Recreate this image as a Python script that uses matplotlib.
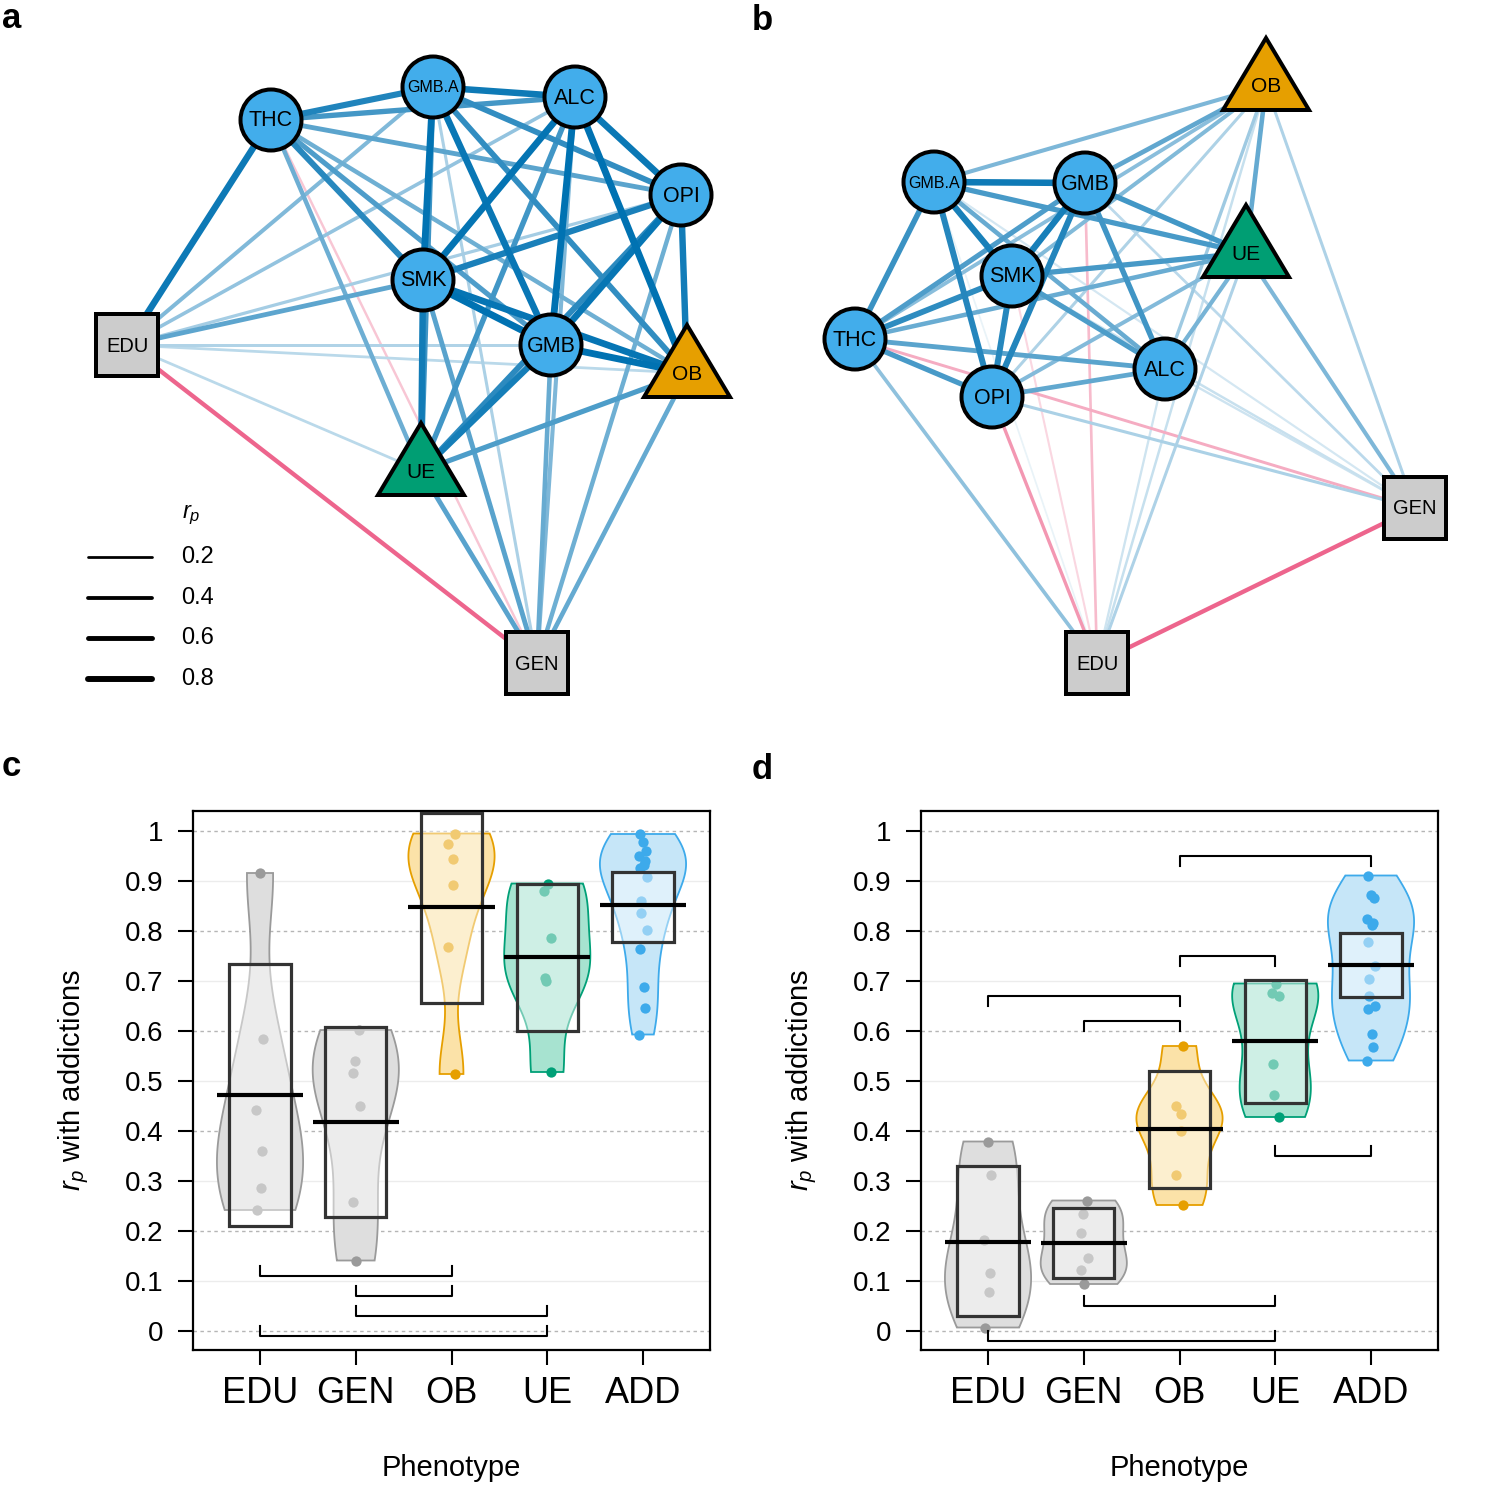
import numpy as np
import matplotlib
matplotlib.use('Agg')
import matplotlib.pyplot as plt
from matplotlib.patches import Circle, Polygon, Rectangle

plt.rcParams['font.family'] = ['Liberation Sans', 'DejaVu Sans']
plt.rcParams['mathtext.fontset'] = 'custom'
plt.rcParams['mathtext.rm'] = 'Liberation Sans'
plt.rcParams['mathtext.it'] = 'Liberation Sans:italic'

# ---------------- data ----------------
addictions = ['THC', 'GMB.A', 'ALC', 'OPI', 'SMK', 'GMB']
groups = ['EDU', 'GEN', 'OB', 'UE', 'ADD']

# network a: layout positions (layout units) and partial correlations
a_nodes = ['THC', 'GMB.A', 'ALC', 'OPI', 'SMK', 'GMB', 'OB', 'UE', 'EDU', 'GEN']
a_x = [271, 433, 575, 681, 423, 551, 687, 421, 127, 537]
a_y = [120, 87, 97, 195, 280, 345, 373, 471, 345, 663]
a_from = ['SMK', 'ALC', 'GMB.A', 'ALC', 'OPI', 'GMB.A', 'ALC', 'GMB.A', 'OPI', 'THC',
          'THC', 'GMB.A', 'THC', 'THC', 'THC',
          'EDU', 'EDU', 'EDU', 'EDU', 'EDU', 'EDU',
          'GEN', 'GEN', 'GEN', 'GEN', 'GEN', 'GEN',
          'OB', 'OB', 'OB', 'OB', 'OB', 'OB',
          'UE', 'UE', 'UE', 'UE', 'UE', 'UE',
          'EDU', 'EDU', 'EDU', 'GEN', 'GEN', 'OB']
a_to = ['GMB', 'GMB', 'SMK', 'SMK', 'GMB', 'GMB', 'OPI', 'ALC', 'SMK', 'GMB.A',
        'SMK', 'OPI', 'ALC', 'GMB', 'OPI',
        'THC', 'SMK', 'GMB.A', 'ALC', 'OPI', 'GMB',
        'SMK', 'GMB', 'OPI', 'ALC', 'GMB.A', 'THC',
        'ALC', 'GMB', 'SMK', 'OPI', 'GMB.A', 'THC',
        'SMK', 'GMB', 'OPI', 'GMB.A', 'ALC', 'THC',
        'GEN', 'OB', 'UE', 'OB', 'UE', 'UE']
a_rp = [0.994, 0.979, 0.960, 0.951, 0.940, 0.932, 0.927, 0.909, 0.861, 0.837,
        0.803, 0.764, 0.689, 0.646, 0.593,
        0.916, 0.584, 0.442, 0.360, 0.286, 0.242,
        0.602, 0.541, 0.516, 0.450, 0.258, -0.141,
        0.995, 0.974, 0.944, 0.893, 0.768, 0.514,
        0.895, 0.881, 0.786, 0.707, 0.701, 0.518,
        -0.50, 0.20, 0.20, 0.55, 0.60, 0.65]

# network b
b_nodes = ['THC', 'GMB.A', 'ALC', 'OPI', 'SMK', 'GMB', 'OB', 'UE', 'EDU', 'GEN']
b_x = [105, 184, 415, 242, 262, 335, 516, 496, 347, 665]
b_y = [339, 182, 369, 397, 276, 183, 86, 253, 663, 508]
b_from = ['GMB.A', 'GMB', 'GMB.A', 'GMB', 'GMB.A', 'SMK', 'SMK', 'GMB.A', 'GMB', 'THC',
          'SMK', 'GMB', 'THC', 'OPI', 'GMB.A',
          'EDU', 'EDU', 'EDU', 'EDU', 'EDU', 'EDU',
          'GEN', 'GEN', 'GEN', 'GEN', 'GEN', 'GEN',
          'OB', 'OB', 'OB', 'OB', 'OB', 'OB',
          'UE', 'UE', 'UE', 'UE', 'UE', 'UE',
          'EDU', 'EDU', 'EDU', 'GEN', 'GEN', 'OB']
b_to = ['GMB', 'SMK', 'SMK', 'OPI', 'OPI', 'OPI', 'THC', 'THC', 'ALC', 'OPI',
        'ALC', 'THC', 'ALC', 'ALC', 'ALC',
        'THC', 'OPI', 'GMB', 'ALC', 'SMK', 'GMB.A',
        'OPI', 'THC', 'GMB', 'SMK', 'ALC', 'GMB.A',
        'GMB', 'GMB.A', 'SMK', 'THC', 'ALC', 'OPI',
        'GMB', 'SMK', 'GMB.A', 'THC', 'ALC', 'OPI',
        'GEN', 'OB', 'UE', 'OB', 'UE', 'UE']
b_rp = [0.911, 0.873, 0.866, 0.825, 0.816, 0.813, 0.778, 0.730, 0.704, 0.671,
        0.650, 0.645, 0.595, 0.568, 0.541,
        0.379, -0.312, -0.182, 0.116, -0.078, 0.007,
        0.261, -0.235, 0.196, 0.147, 0.122, 0.094,
        0.570, 0.451, 0.434, 0.400, 0.312, 0.252,
        0.695, 0.677, 0.671, 0.535, 0.473, 0.428,
        -0.50, 0.15, 0.25, 0.25, 0.45, 0.55]

# box limits
c_box_lo = [0.211, 0.229, 0.657, 0.600, 0.779]
c_box_hi = [0.734, 0.608, 1.036, 0.894, 0.918]
d_box_lo = [0.030, 0.107, 0.287, 0.457, 0.668]
d_box_hi = [0.330, 0.246, 0.521, 0.703, 0.797]

# significance brackets: (group i, group j, y level, direction of the ends)
c_brackets = [(1, 3, 0.111, 1), (2, 3, 0.071, 1), (2, 4, 0.031, 1), (1, 4, -0.009, 1)]
d_brackets = [(3, 5, 0.951, -1), (3, 4, 0.751, -1), (1, 3, 0.670, -1), (2, 3, 0.620, -1),
              (4, 5, 0.350, 1), (2, 4, 0.050, 1), (1, 4, -0.019, 1)]

legend_rp = [0.2, 0.4, 0.6, 0.8]

# ---------------- styles ----------------
NODE_BLUE = '#42ADEB'
node_fill = {'OB': '#E69F00', 'UE': '#009E73', 'EDU': '#CCCCCC', 'GEN': '#CCCCCC'}
POS = np.array([0, 114, 178]) / 255
NEG = np.array([232, 62, 112]) / 255
PX = 0.72  # points per pixel at dpi 100

grp_fill = ['#dedede', '#dedede', '#fbe2a8', '#a7e3d0', '#c6e6f8']
grp_edge = ['#9a9a9a', '#9a9a9a', '#E69F00', '#00A077', '#3DAAEB']
grp_pt = ['#9a9a9a', '#9a9a9a', '#E69F00', '#00A077', '#3DAAEB']


def edge_width(r):
    return (1.7 + 5.3 * abs(r)) * PX


def edge_color(r):
    if r > 0:
        a = np.clip(0.08 + 0.95 * r, 0, 1)
        base = POS
    else:
        a = np.clip(0.1 + 1.4 * abs(r), 0, 1)
        base = NEG
    return tuple(a * base + (1 - a) * np.ones(3))


def draw_network(ax, nodes, xs, ys, src, dst, rp):
    pos = {n: (x, y) for n, x, y in zip(nodes, xs, ys)}
    order = np.argsort(np.abs(rp))
    for k in order:
        (x1, y1), (x2, y2) = pos[src[k]], pos[dst[k]]
        ax.plot([x1, x2], [y1, y2], color=edge_color(rp[k]), lw=edge_width(rp[k]),
                solid_capstyle='butt', zorder=1)
    for n in nodes:
        x, y = pos[n]
        if n in ('OB', 'UE'):
            w, h = 86, 72
            p = Polygon([(x, y - 2 * h / 3), (x - w / 2, y + h / 3), (x + w / 2, y + h / 3)],
                        closed=True, facecolor=node_fill[n], edgecolor='black',
                        lw=4 * PX, joinstyle='miter', zorder=3)
            fs = 15
        elif n in ('EDU', 'GEN'):
            p = Rectangle((x - 31, y - 31), 62, 62, facecolor=node_fill[n],
                          edgecolor='black', lw=4 * PX, joinstyle='miter', zorder=3)
            fs = 14.5
        else:
            p = Circle((x, y), 30.5, facecolor=NODE_BLUE, edgecolor='black',
                       lw=4 * PX, zorder=3)
            fs = 11.5 if n == 'GMB.A' else 15.5
        ax.add_patch(p)
        ax.text(x, y + 1, n, ha='center', va='center', fontsize=fs, zorder=4)


def group_values(src, dst, rp):
    out = []
    for g in groups[:4]:
        v = [abs(r) for s, d, r in zip(src, dst, rp)
             if (s == g and d in addictions) or (d == g and s in addictions)]
        out.append(np.array(v))
    v = [abs(r) for s, d, r in zip(src, dst, rp) if s in addictions and d in addictions]
    out.append(np.array(v))
    return out


def kde_nrd0(v, grid):
    n = len(v)
    sd = np.std(v, ddof=1)
    q75, q25 = np.percentile(v, [75, 25])
    lo = min(sd, (q75 - q25) / 1.34)
    if lo <= 0:
        lo = sd
    bw = 0.9 * lo * n ** -0.2
    return np.exp(-0.5 * ((grid[:, None] - v[None, :]) / bw) ** 2).sum(1)


def draw_violins(ax, vals, box_lo, box_hi, brackets):
    for v in np.arange(0, 1.01, 0.2):
        ax.axhline(v, color='#b5b5b5', lw=1, ls=(0, (2.5, 2.5)), zorder=0)
    for v in np.arange(0.1, 1.0, 0.2):
        ax.axhline(v, color='#ececec', lw=1, zorder=0)
    for k, v in enumerate(vals):
        p = k + 1
        grid = np.linspace(v.min(), v.max(), 300)
        dens = kde_nrd0(v, grid)
        hw = 0.45 * dens / dens.max()
        ax.fill(np.concatenate([p - hw, (p + hw)[::-1]]), np.concatenate([grid, grid[::-1]]),
                facecolor=grp_fill[k], edgecolor=grp_edge[k], lw=1.3, zorder=2)
        jit = 0.04 * np.sin(np.arange(len(v)) * 2.3 + k)
        ax.scatter(p + jit, v, s=55, color=grp_pt[k], lw=0, zorder=3)
        ax.add_patch(Rectangle((p - 0.32, box_lo[k]), 0.64, box_hi[k] - box_lo[k],
                               facecolor=(1, 1, 1, 0.45), edgecolor='#333333',
                               lw=2.3, zorder=4))
        m = v.mean()
        ax.plot([p - 0.45, p + 0.45], [m, m], color='black', lw=3,
                solid_capstyle='butt', zorder=5)
    for i, j, y, d in brackets:
        ax.plot([i, i, j, j], [y + d * 0.02, y, y, y + d * 0.02], color='black',
                lw=1.5, zorder=6)
    ax.set_xlim(0.3, 5.7)
    ax.set_ylim(-0.038, 1.04)
    ax.set_xticks(range(1, 6))
    ax.set_xticklabels(groups, fontsize=26)
    ax.set_yticks(np.round(np.arange(0, 1.01, 0.1), 1))
    ax.set_yticklabels(['0'] + ['%.1f' % t for t in np.arange(0.1, 0.95, 0.1)] + ['1'],
                       fontsize=20)
    ax.tick_params(axis='y', length=10.8, width=1.5, pad=10.8)
    ax.tick_params(axis='x', length=10.8, width=1.5, pad=8)
    for s in ax.spines.values():
        s.set_linewidth(1.6)
    ax.set_ylabel('$r_p$ with addictions', fontsize=21, labelpad=24)
    ax.set_xlabel('Phenotype', fontsize=21, labelpad=31)


fig = plt.figure(figsize=(15, 15), dpi=100)

ax_a = fig.add_axes([0, 0.5, 0.5, 0.5])
ax_a.set_xlim(0, 750)
ax_a.set_ylim(750, 0)
ax_a.axis('off')
draw_network(ax_a, a_nodes, a_x, a_y, a_from, a_to, a_rp)
# width legend
ax_a.text(182, 515, '$r_p$', fontsize=17, ha='left', va='center')
for k, r in enumerate(legend_rp):
    yy = 557 + 40.7 * k
    ax_a.plot([88, 152], [yy, yy], color='black', lw=edge_width(r), solid_capstyle='round')
    ax_a.text(181, yy, '%.1f' % r, fontsize=17, ha='left', va='center')

ax_b = fig.add_axes([0.5, 0.5, 0.5, 0.5])
ax_b.set_xlim(0, 750)
ax_b.set_ylim(750, 0)
ax_b.axis('off')
draw_network(ax_b, b_nodes, b_x, b_y, b_from, b_to, b_rp)

ax_c = fig.add_axes([193 / 1500, 0.1, 517 / 1500, 539 / 1500])
draw_violins(ax_c, group_values(a_from, a_to, a_rp), c_box_lo, c_box_hi, c_brackets)

ax_d = fig.add_axes([921 / 1500, 0.1, 517 / 1500, 539 / 1500])
draw_violins(ax_d, group_values(b_from, b_to, b_rp), d_box_lo, d_box_hi, d_brackets)

for lab, x, y in [('a', 2, 28), ('b', 752, 30), ('c', 2, 776), ('d', 752, 779)]:
    fig.text(x / 1500, 1 - y / 1500, lab, fontsize=25, fontweight='bold', va='baseline')

fig.savefig('out.png', dpi=100)
